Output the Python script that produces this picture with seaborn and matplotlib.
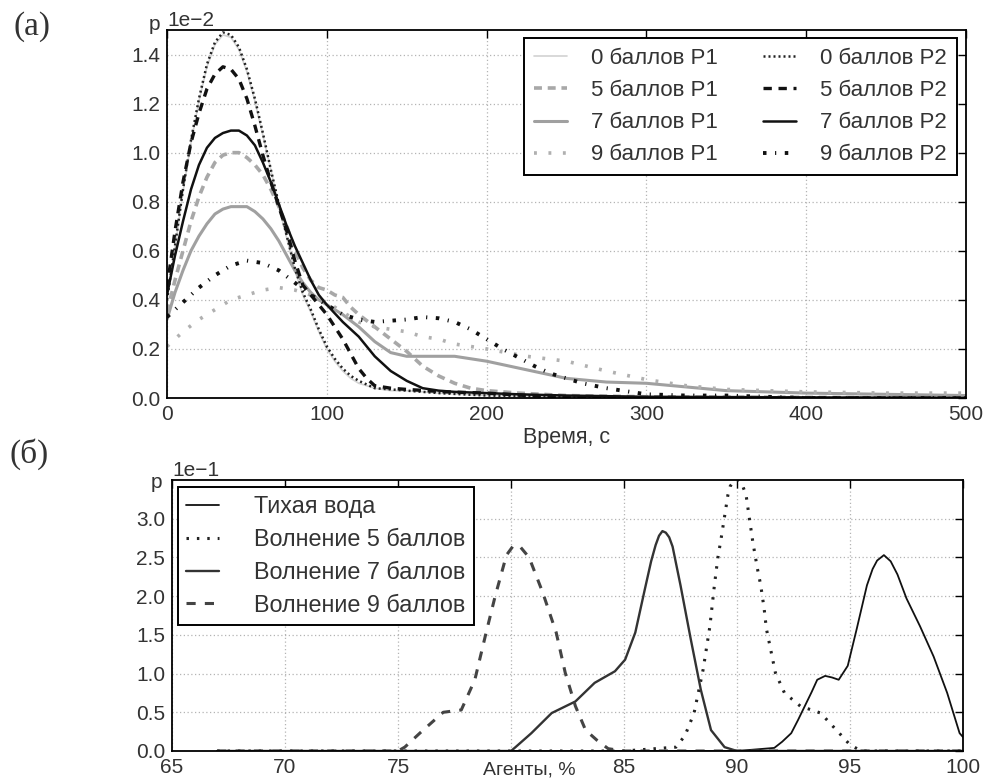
import numpy as np
import pandas as pd
import matplotlib
matplotlib.use("Agg")
import matplotlib.pyplot as plt
from matplotlib.ticker import FixedLocator
import seaborn as sns

# ---------------- data: panel (a), p in units of 1e-2 ----------------
t_0p1 = [0, 5, 10, 15, 20, 25, 30, 35, 40, 45, 50, 55, 60, 65, 70, 75, 80, 85, 90, 95, 100, 105, 110, 115, 120, 130, 140, 150, 170, 200, 250, 300, 500]
p_0p1 = [0.40, 0.61, 0.84, 1.04, 1.21, 1.35, 1.44, 1.48, 1.47, 1.42, 1.33, 1.21, 1.07, 0.93, 0.78, 0.65, 0.52, 0.42, 0.35, 0.27, 0.20, 0.15, 0.11, 0.08, 0.06, 0.04, 0.03, 0.03, 0.02, 0.01, 0.005, 0.0, 0.0]

t_5p1 = [0, 5, 10, 15, 20, 25, 30, 35, 40, 45, 50, 55, 60, 65, 70, 75, 80, 85, 90, 95, 100, 105, 110, 115, 120, 130, 140, 150, 160, 170, 180, 190, 200, 220, 250, 300, 500]
p_5p1 = [0.35, 0.48, 0.60, 0.72, 0.82, 0.90, 0.96, 0.99, 1.00, 1.00, 0.98, 0.95, 0.91, 0.85, 0.78, 0.70, 0.60, 0.53, 0.48, 0.45, 0.44, 0.42, 0.41, 0.37, 0.34, 0.29, 0.24, 0.19, 0.13, 0.09, 0.06, 0.04, 0.03, 0.02, 0.01, 0.005, 0.0]

t_7p1 = [0, 5, 10, 15, 20, 25, 30, 35, 40, 45, 50, 55, 60, 65, 70, 75, 80, 85, 90, 95, 100, 110, 120, 130, 140, 150, 160, 170, 180, 190, 200, 225, 250, 275, 300, 325, 350, 400, 450, 500]
p_7p1 = [0.32, 0.43, 0.52, 0.60, 0.66, 0.71, 0.75, 0.77, 0.78, 0.78, 0.78, 0.76, 0.73, 0.69, 0.64, 0.58, 0.52, 0.47, 0.43, 0.40, 0.38, 0.34, 0.29, 0.23, 0.185, 0.17, 0.17, 0.17, 0.17, 0.16, 0.15, 0.115, 0.08, 0.065, 0.06, 0.045, 0.03, 0.02, 0.015, 0.01]

t_9p1 = [0, 10, 20, 30, 40, 50, 60, 70, 80, 90, 100, 110, 120, 130, 140, 150, 160, 170, 180, 190, 200, 225, 250, 275, 300, 325, 350, 400, 450, 500]
p_9p1 = [0.21, 0.27, 0.32, 0.36, 0.40, 0.42, 0.44, 0.45, 0.44, 0.42, 0.39, 0.35, 0.31, 0.29, 0.28, 0.27, 0.25, 0.24, 0.22, 0.21, 0.20, 0.17, 0.15, 0.11, 0.075, 0.05, 0.035, 0.025, 0.02, 0.02]

t_0p2 = [0, 5, 10, 15, 20, 25, 30, 35, 40, 45, 50, 55, 60, 65, 70, 75, 80, 85, 90, 95, 100, 105, 110, 115, 120, 130, 140, 150, 170, 200, 250, 300, 500]
p_0p2 = [0.40, 0.62, 0.85, 1.05, 1.22, 1.36, 1.45, 1.49, 1.48, 1.43, 1.34, 1.22, 1.08, 0.93, 0.79, 0.66, 0.53, 0.43, 0.36, 0.28, 0.21, 0.16, 0.12, 0.09, 0.07, 0.04, 0.035, 0.03, 0.02, 0.01, 0.005, 0.0, 0.0]

t_5p2 = [0, 5, 10, 15, 20, 25, 30, 35, 40, 45, 50, 55, 60, 65, 70, 75, 80, 85, 90, 95, 100, 105, 110, 115, 120, 125, 130, 140, 150, 175, 200, 225, 250, 300, 500]
p_5p2 = [0.45, 0.68, 0.88, 1.04, 1.16, 1.26, 1.32, 1.35, 1.34, 1.30, 1.22, 1.11, 0.99, 0.88, 0.78, 0.68, 0.56, 0.46, 0.42, 0.38, 0.34, 0.29, 0.24, 0.18, 0.12, 0.08, 0.05, 0.04, 0.035, 0.025, 0.02, 0.01, 0.005, 0.0, 0.0]

t_7p2 = [0, 5, 10, 15, 20, 25, 30, 35, 40, 45, 50, 55, 60, 65, 70, 75, 80, 85, 90, 95, 100, 110, 120, 130, 140, 150, 160, 170, 180, 200, 220, 250, 300, 500]
p_7p2 = [0.42, 0.58, 0.72, 0.85, 0.95, 1.02, 1.06, 1.08, 1.09, 1.09, 1.07, 1.03, 0.96, 0.88, 0.79, 0.70, 0.62, 0.55, 0.48, 0.42, 0.38, 0.31, 0.25, 0.17, 0.11, 0.07, 0.04, 0.03, 0.025, 0.02, 0.015, 0.01, 0.005, 0.0]

t_9p2 = [0, 10, 20, 30, 40, 50, 60, 70, 80, 90, 100, 110, 120, 130, 140, 150, 160, 170, 180, 190, 200, 210, 220, 230, 240, 250, 260, 275, 290, 300, 325, 350, 375, 400, 500]
p_9p2 = [0.33, 0.39, 0.45, 0.50, 0.54, 0.56, 0.55, 0.52, 0.47, 0.42, 0.38, 0.34, 0.32, 0.31, 0.315, 0.32, 0.33, 0.325, 0.31, 0.28, 0.24, 0.20, 0.165, 0.13, 0.10, 0.08, 0.06, 0.04, 0.025, 0.015, 0.01, 0.01, 0.005, 0.0, 0.0]

labels_a = ["0 баллов P1", "5 баллов P1", "7 баллов P1", "9 баллов P1",
            "0 баллов P2", "5 баллов P2", "7 баллов P2", "9 баллов P2"]
xticks_a = [0, 100, 200, 300, 400, 500]
yticks_a = [0.0, 0.2, 0.4, 0.6, 0.8, 1.0, 1.2, 1.4]

# ---------------- data: panel (б), p in units of 1e-1 ----------------
a_calm = [67, 80, 90, 91.65, 92.0, 92.4, 92.7, 93.0, 93.3, 93.55, 93.9, 94.2, 94.5, 94.9, 95.3, 95.75, 96.0, 96.2, 96.5, 96.8, 97.1, 97.5, 98.1, 98.7, 99.3, 99.85, 100]
p_calm = [0, 0, 0, 0.04, 0.12, 0.23, 0.40, 0.58, 0.76, 0.92, 0.97, 0.95, 0.92, 1.10, 1.58, 2.14, 2.35, 2.46, 2.53, 2.45, 2.28, 1.97, 1.61, 1.22, 0.75, 0.23, 0.18]

a_w5 = [67, 85, 87.3, 87.7, 88.1, 88.5, 88.8, 89.0, 89.15, 89.3, 89.45, 89.6, 89.7, 89.9, 90.05, 90.2, 90.4, 90.55, 90.7, 90.9, 91.05, 91.2, 91.3, 91.7, 92.1, 92.8, 93.7, 94.4, 95.0, 95.5, 100]
p_w5 = [0, 0, 0.05, 0.20, 0.49, 1.05, 1.61, 2.14, 2.49, 2.75, 3.03, 3.31, 3.42, 3.50, 3.50, 3.46, 3.31, 3.00, 2.70, 2.36, 2.14, 1.84, 1.58, 1.01, 0.75, 0.58, 0.49, 0.27, 0.08, 0.0, 0]

a_w7 = [67, 80.0, 80.2, 80.9, 81.8, 82.85, 83.7, 84.6, 85.05, 85.5, 85.9, 86.2, 86.4, 86.55, 86.7, 86.85, 87.0, 87.15, 87.5, 87.95, 88.4, 88.85, 89.45, 90, 100]
p_w7 = [0, 0, 0.05, 0.23, 0.49, 0.64, 0.88, 1.03, 1.18, 1.53, 2.06, 2.45, 2.66, 2.78, 2.84, 2.82, 2.76, 2.64, 2.14, 1.45, 0.79, 0.27, 0.05, 0, 0]

a_w9 = [67, 75.0, 75.3, 76.0, 77.0, 77.8, 78.4, 78.9, 79.3, 79.8, 80.1, 80.4, 80.8, 81.4, 82.0, 82.4, 82.85, 83.3, 83.8, 84.3, 85, 100]
p_w9 = [0, 0, 0.05, 0.24, 0.50, 0.53, 0.92, 1.53, 2.00, 2.53, 2.65, 2.64, 2.50, 2.05, 1.53, 1.01, 0.58, 0.27, 0.14, 0.03, 0, 0]

labels_b = ["Тихая вода", "Волнение 5 баллов", "Волнение 7 баллов", "Волнение 9 баллов"]
xticks_b = [65, 70, 75, 80, 85, 90, 95, 100]
yticks_b = [0.0, 0.5, 1.0, 1.5, 2.0, 2.5, 3.0]

# ---------------- style ----------------
sns.set_style("white")
plt.rcParams["font.family"] = ["Liberation Sans", "DejaVu Sans"]
TXT = "#333333"
plt.rcParams["text.color"] = TXT
plt.rcParams["axes.labelcolor"] = TXT
plt.rcParams["xtick.color"] = "black"
plt.rcParams["ytick.color"] = "black"
plt.rcParams["xtick.labelcolor"] = TXT
plt.rcParams["ytick.labelcolor"] = TXT
TICK_FS = 15
LEG_FS = 16

fig = plt.figure(figsize=(9.84, 7.82), dpi=100)
ax1 = fig.add_axes([167 / 984, 1 - 398 / 782, (966 - 167) / 984, (398 - 30) / 782])
ax2 = fig.add_axes([172 / 984, 1 - 751 / 782, (963 - 172) / 984, (751 - 480) / 782])


def style_axes(ax):
    for s in ax.spines.values():
        s.set_visible(True)
        s.set_color("black")
        s.set_linewidth(1.3)
    ax.tick_params(direction="in", top=True, right=True, length=6, width=1,
                   labelsize=TICK_FS)
    ax.tick_params(axis="x", pad=5)
    ax.tick_params(axis="y", pad=5)
    ax.grid(True, linestyle=(0, (1, 2)), color="#b4b4b4", linewidth=0.9)
    ax.set_axisbelow(True)


# panel (a)
S1 = 1e-2
series_a = [
    (t_0p1, p_0p1, "#d2d2d2", 1.2, "-"),
    (t_5p1, p_5p1, "#a8a8a8", 2.6, (0, (2.2, 1.6))),
    (t_7p1, p_7p1, "#a0a0a0", 2.2, "-"),
    (t_9p1, p_9p1, "#b0b0b0", 2.6, (0, (0.8, 3.2))),
    (t_0p2, p_0p2, "#222222", 1.8, (0, (0.8, 1.2))),
    (t_5p2, p_5p2, "#111111", 2.4, (0, (2.5, 2.0))),
    (t_7p2, p_7p2, "#111111", 1.8, "-"),
    (t_9p2, p_9p2, "#111111", 2.8, (0, (0.9, 2.2, 0.3, 2.2))),
]
handles_a = []
for (tx, py, col, lw, ls), lab in zip(series_a, labels_a):
    df = pd.DataFrame({"t": tx, "p": np.array(py) * S1})
    sns.lineplot(data=df, x="t", y="p", ax=ax1, color=col, linewidth=lw,
                 linestyle=ls, estimator=None, sort=False, label=lab, legend=False)
    handles_a.append(ax1.lines[-1])

ax1.set_xlim(0, 500)
ax1.set_ylim(0, 0.015)
ax1.xaxis.set_major_locator(FixedLocator(xticks_a))
ax1.yaxis.set_major_locator(FixedLocator([v * S1 for v in yticks_a]))
ax1.ticklabel_format(axis="y", style="sci", scilimits=(0, 0))
style_axes(ax1)
ax1.yaxis.get_offset_text().set_fontsize(TICK_FS)
ax1.set_xlabel("Время, с", fontsize=15.5, labelpad=2)
ax1.set_ylabel("")
ax1.text(-0.008, 1.0, "p", transform=ax1.transAxes, ha="right", va="baseline",
         fontsize=TICK_FS, color=TXT)
leg1 = ax1.legend(handles_a, labels_a, ncol=2, loc="upper right",
                  bbox_to_anchor=(0.989, 0.978), borderaxespad=0,
                  fontsize=LEG_FS, frameon=True,
                  fancybox=False, edgecolor="black", framealpha=1,
                  handlelength=1.5, handletextpad=1.1, columnspacing=2.0,
                  labelspacing=0.5, borderpad=0.45)
leg1.get_frame().set_linewidth(1.4)

# panel (б)
S2 = 1e-1
series_b = [
    (a_calm, p_calm, "#111111", 1.3, "-"),
    (a_w5, p_w5, "#222222", 2.2, (0, (0.8, 2.6))),
    (a_w7, p_w7, "#333333", 1.7, "-"),
    (a_w9, p_w9, "#444444", 2.2, (0, (3.0, 3.0))),
]
handles_b = []
for (ax_, py, col, lw, ls), lab in zip(series_b, labels_b):
    df = pd.DataFrame({"a": ax_, "p": np.array(py) * S2})
    sns.lineplot(data=df, x="a", y="p", ax=ax2, color=col, linewidth=lw,
                 linestyle=ls, estimator=None, sort=False, label=lab, legend=False)
    handles_b.append(ax2.lines[-1])

ax2.set_xlim(65, 100)
ax2.set_ylim(0, 0.35)
ax2.xaxis.set_major_locator(FixedLocator(xticks_b))
ax2.set_xticklabels([("" if v == 80 else str(v)) for v in xticks_b])
ax2.yaxis.set_major_locator(FixedLocator([v * S2 for v in yticks_b]))
ax2.ticklabel_format(axis="y", style="sci", scilimits=(0, 0))
style_axes(ax2)
ax2.yaxis.get_offset_text().set_fontsize(TICK_FS)
ax2.set_xlabel("Агенты, %", fontsize=14)
ax2.xaxis.set_label_coords(0.452, -0.04)
ax2.xaxis.label.set_verticalalignment("top")
ax2.set_ylabel("")
ax2.text(-0.012, 0.972, "p", transform=ax2.transAxes, ha="right", va="baseline",
         fontsize=TICK_FS, color=TXT)
leg2 = ax2.legend(handles_b, labels_b, loc="upper left",
                  bbox_to_anchor=(0.008, 0.974), borderaxespad=0,
                  fontsize=16.8, frameon=True,
                  fancybox=False, edgecolor="black", framealpha=1,
                  handlelength=1.4, handletextpad=1.5, labelspacing=0.42,
                  borderpad=0.35)
leg2.get_frame().set_linewidth(1.4)

# panel labels
fig.text(0.014, 0.986, "(a)", family=["Liberation Serif", "DejaVu Serif"],
         fontsize=24, va="top", ha="left", color=TXT)
fig.text(0.010, 0.440, "(б)", family=["Liberation Serif", "DejaVu Serif"],
         fontsize=24, va="top", ha="left", color=TXT)

fig.savefig("out.png", dpi=100)
